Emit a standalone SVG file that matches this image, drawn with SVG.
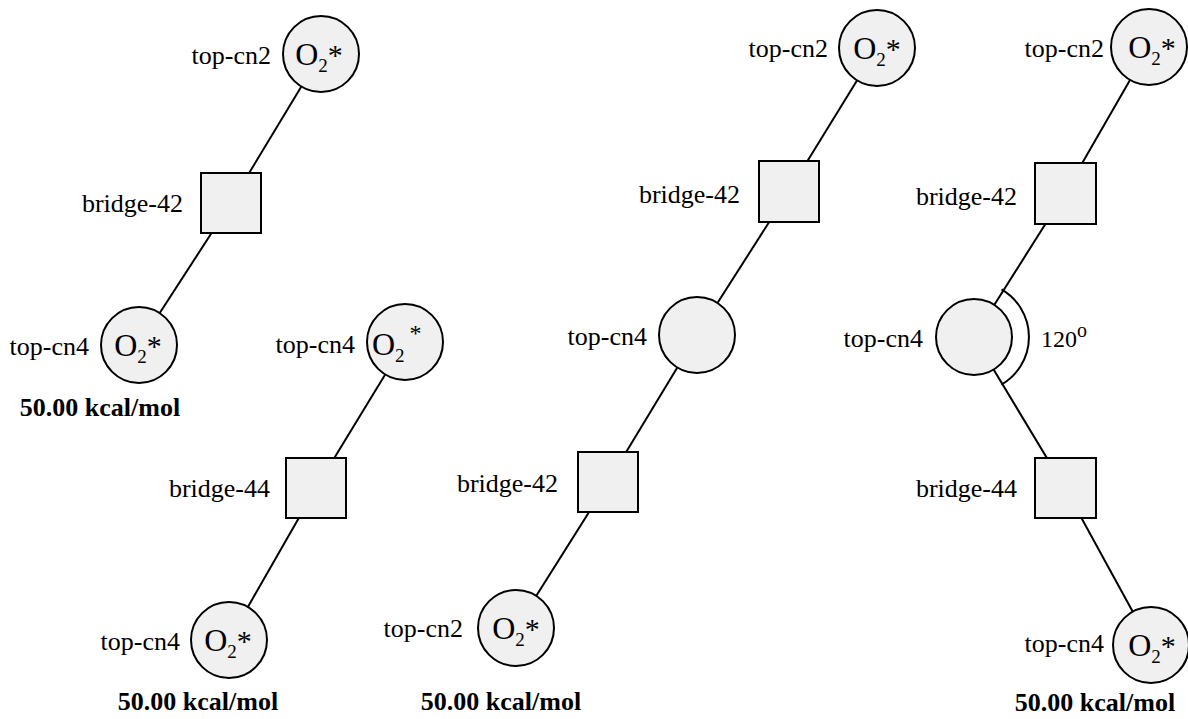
<svg xmlns="http://www.w3.org/2000/svg" width="1188" height="719" viewBox="0 0 1188 719">
  <style>
    .site { fill: #f0f0f0; stroke: #000; stroke-width: 2; }
    .bond { stroke: #000; stroke-width: 2; fill: none; }
    .lbl { font-family: "Liberation Serif", "Times New Roman", serif; font-size: 26px; fill: #000; text-anchor: end; }
    .ads { font-family: "Liberation Serif", "Times New Roman", serif; font-size: 32px; fill: #000; text-anchor: middle; }
    .sub { font-size: 19px; }
    .star { font-size: 30px; }
    .energy { font-family: "Liberation Serif", "Times New Roman", serif; font-size: 26px; font-weight: bold; fill: #000; text-anchor: middle; }
    .ang { font-family: "Liberation Serif", "Times New Roman", serif; font-size: 24px; fill: #000; }
  </style>

  <!-- bonds between adsorption sites -->
  <g id="connectors">
    <!-- configuration 1 -->
    <line class="bond" x1="321" y1="54" x2="231" y2="203"/>
    <line class="bond" x1="231" y1="203" x2="139" y2="345"/>
    <!-- configuration 2 -->
    <line class="bond" x1="405" y1="342" x2="316" y2="488"/>
    <line class="bond" x1="316" y1="488" x2="229" y2="640"/>
    <!-- configuration 3 -->
    <line class="bond" x1="877" y1="48" x2="789" y2="191"/>
    <line class="bond" x1="789" y1="191" x2="697" y2="335"/>
    <line class="bond" x1="697" y1="335" x2="608" y2="482"/>
    <line class="bond" x1="608" y1="482" x2="516" y2="628"/>
    <!-- configuration 4 -->
    <line class="bond" x1="1149" y1="47" x2="1065" y2="193"/>
    <line class="bond" x1="1065" y1="193" x2="974" y2="337"/>
    <line class="bond" x1="974" y1="337" x2="1065" y2="488"/>
    <line class="bond" x1="1065" y1="488" x2="1151" y2="645"/>
    <!-- bond angle marker -->
    <path class="bond" d="M 1001.5 289.4 A 55 55 0 0 1 1001.5 384.6"/>
  </g>

  <!-- configuration 1 -->
  <g id="c1-top-cn2">
    <circle class="site" cx="321" cy="54" r="38"/>
    <text class="ads" x="319" y="65">O<tspan class="sub" dy="7">2</tspan><tspan class="star" dy="-7">*</tspan></text>
    <text class="lbl" x="271" y="64">top-cn2</text>
  </g>
  <g id="c1-bridge-42">
    <rect class="site" x="201" y="173" width="60" height="60"/>
    <text class="lbl" x="183" y="212">bridge-42</text>
  </g>
  <g id="c1-top-cn4">
    <circle class="site" cx="139" cy="345" r="38"/>
    <text class="ads" x="138" y="356">O<tspan class="sub" dy="7">2</tspan><tspan class="star" dy="-7">*</tspan></text>
    <text class="lbl" x="89" y="355">top-cn4</text>
  </g>
  <text class="energy" x="100" y="416">50.00 kcal/mol</text>

  <!-- configuration 2 -->
  <g id="c2-top-cn4-a">
    <circle class="site" cx="405" cy="342" r="38"/>
    <text class="ads" x="372" y="355" style="text-anchor:start">O<tspan class="sub" dy="7">2</tspan><tspan style="font-size:24px" dx="5" dy="-21">*</tspan></text>
    <text class="lbl" x="355" y="353">top-cn4</text>
  </g>
  <g id="c2-bridge-44">
    <rect class="site" x="286" y="458" width="60" height="60"/>
    <text class="lbl" x="270" y="497">bridge-44</text>
  </g>
  <g id="c2-top-cn4-b">
    <circle class="site" cx="229" cy="640" r="38"/>
    <text class="ads" x="228" y="651">O<tspan class="sub" dy="7">2</tspan><tspan class="star" dy="-7">*</tspan></text>
    <text class="lbl" x="180" y="650">top-cn4</text>
  </g>
  <text class="energy" x="198" y="710">50.00 kcal/mol</text>

  <!-- configuration 3 -->
  <g id="c3-top-cn2-a">
    <circle class="site" cx="877" cy="48" r="38"/>
    <text class="ads" x="877" y="59">O<tspan class="sub" dy="7">2</tspan><tspan class="star" dy="-7">*</tspan></text>
    <text class="lbl" x="828" y="57">top-cn2</text>
  </g>
  <g id="c3-bridge-42-a">
    <rect class="site" x="759" y="161" width="60" height="61"/>
    <text class="lbl" x="740" y="203">bridge-42</text>
  </g>
  <g id="c3-top-cn4">
    <circle class="site" cx="697" cy="335" r="38"/>
    <text class="lbl" x="647" y="345">top-cn4</text>
  </g>
  <g id="c3-bridge-42-b">
    <rect class="site" x="578" y="452" width="60" height="60"/>
    <text class="lbl" x="558" y="492">bridge-42</text>
  </g>
  <g id="c3-top-cn2-b">
    <circle class="site" cx="516" cy="628" r="38"/>
    <text class="ads" x="516" y="639">O<tspan class="sub" dy="7">2</tspan><tspan class="star" dy="-7">*</tspan></text>
    <text class="lbl" x="463" y="637">top-cn2</text>
  </g>
  <text class="energy" x="501" y="710">50.00 kcal/mol</text>

  <!-- configuration 4 -->
  <g id="c4-top-cn2">
    <circle class="site" cx="1149" cy="47" r="38"/>
    <text class="ads" x="1152" y="58">O<tspan class="sub" dy="7">2</tspan><tspan class="star" dy="-7">*</tspan></text>
    <text class="lbl" x="1104" y="57">top-cn2</text>
  </g>
  <g id="c4-bridge-42">
    <rect class="site" x="1035" y="163" width="61" height="61"/>
    <text class="lbl" x="1017" y="205">bridge-42</text>
  </g>
  <g id="c4-top-cn4-a">
    <circle class="site" cx="974" cy="337" r="38"/>
    <text class="lbl" x="923" y="347">top-cn4</text>
  </g>
  <text class="ang" x="1041" y="347">120<tspan style="font-size:20px" dy="-10">o</tspan></text>
  <g id="c4-bridge-44">
    <rect class="site" x="1035" y="458" width="61" height="60"/>
    <text class="lbl" x="1017" y="497">bridge-44</text>
  </g>
  <g id="c4-top-cn4-b">
    <circle class="site" cx="1151" cy="645" r="38"/>
    <text class="ads" x="1152" y="656">O<tspan class="sub" dy="7">2</tspan><tspan class="star" dy="-7">*</tspan></text>
    <text class="lbl" x="1104" y="652">top-cn4</text>
  </g>
  <text class="energy" x="1095" y="711">50.00 kcal/mol</text>
</svg>
